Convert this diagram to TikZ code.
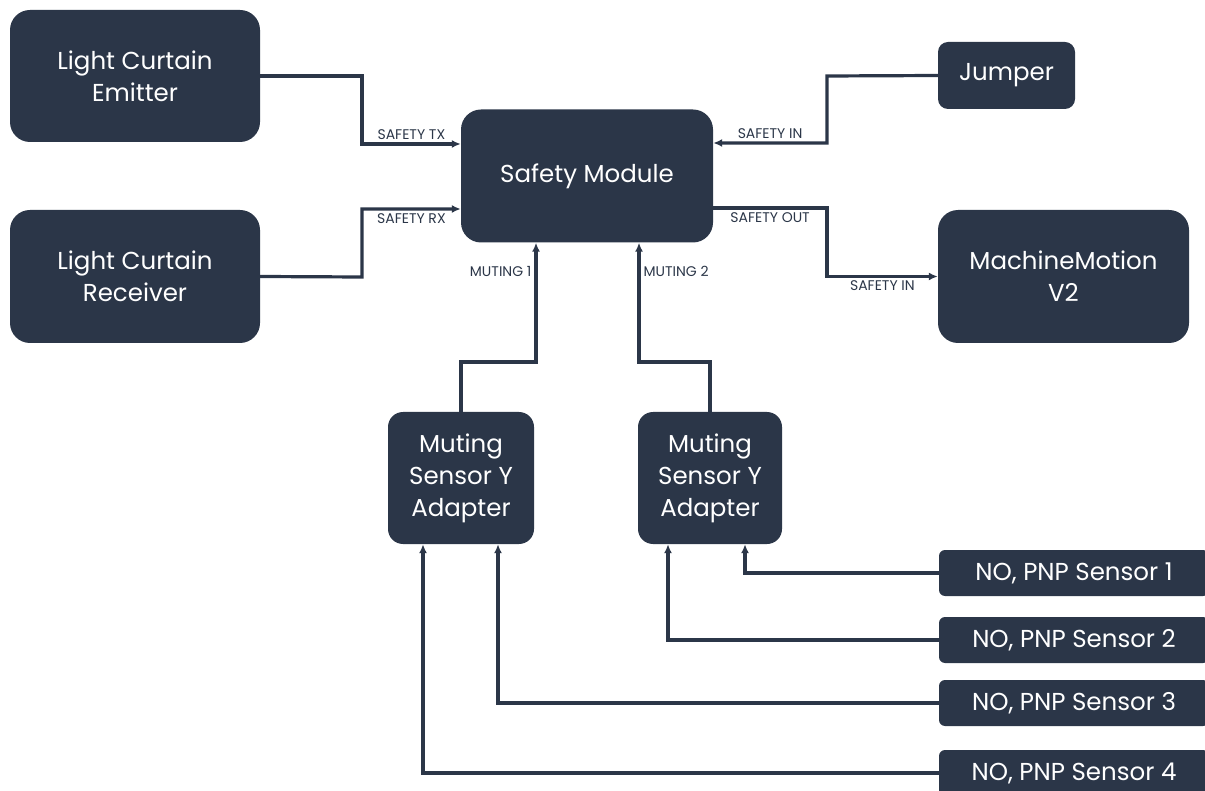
\documentclass[tikz,border=0pt]{standalone}
\usepackage{fontspec}
\setmainfont{Poppins}
\usetikzlibrary{arrows.meta}
\definecolor{navy}{HTML}{2B3648}
\tikzset{
  block/.style={fill=navy, rounded corners=20pt, text=white, align=center,
    inner sep=0pt, font=\fontsize{24.5}{32}\selectfont},
  sensor/.style={block, rounded corners=6pt, minimum width=270pt, minimum height=46pt,
    font=\fontsize{24.5}{26}\selectfont},
  wire/.style={draw=navy, line width=3.2pt, -{Latex[length=9pt,width=8pt]}},
  lbl/.style={text=navy, inner sep=3pt, font=\fontsize{14}{15}\selectfont},
}
\begin{document}
\begin{tikzpicture}[x=1pt,y=-1pt]
\useasboundingbox (0,0) rectangle (1205,791);
\clip (0,0) rectangle (1205,791);
% boxes
\node[block, minimum width=250pt, minimum height=132pt] (emitter) at (135,76) {Light Curtain\\Emitter};
\node[block, minimum width=250pt, minimum height=133pt] (receiver) at (135,276.5) {Light Curtain\\Receiver};
\node[block, minimum width=252pt, minimum height=133pt] (safety) at (587,176) {Safety Module};
\node[block, rounded corners=10pt, minimum width=137pt, minimum height=67pt] (jumper) at (1006.5,75.5) {Jumper};
\node[block, minimum width=251pt, minimum height=133pt] (machine) at (1063.5,276.5) {MachineMotion\\V2};
\node[block, rounded corners=15pt, minimum width=146pt, minimum height=132pt] (adaptA) at (461,478) {Muting\\Sensor Y\\Adapter};
\node[block, rounded corners=15pt, minimum width=144pt, minimum height=132pt] (adaptB) at (710,478) {Muting\\Sensor Y\\Adapter};
\foreach \i/\y in {1/573,2/640,3/703,4/773}
  \node[sensor] (s\i) at (1074,\y) {NO, PNP Sensor \i};
% safety wiring
\draw[wire] (emitter.east) -- (362,76) |- node[lbl,pos=0.75,above]{SAFETY TX} ([yshift=32]safety.west);
\draw[wire] (receiver.east) -- (362,277) |- node[lbl,pos=0.75,below]{SAFETY RX} ([yshift=-33]safety.west);
\draw[wire] (jumper.west) -- (827,76) |- node[lbl,pos=0.75,above]{SAFETY IN} ([yshift=33]safety.east);
\draw[wire] ([yshift=-32]safety.east) -- node[lbl,below]{SAFETY OUT} (827,208) |- node[lbl,pos=0.75,below]{SAFETY IN} (machine.west);
% muting
\draw[wire] (adaptA.north) -- (461,362) -| node[lbl,pos=0.88,left]{MUTING 1} ([xshift=-51]safety.south);
\draw[wire] (adaptB.north) -- (710,362) -| node[lbl,pos=0.88,right]{MUTING 2} ([xshift=52]safety.south);
% sensors
\draw[wire] (s1.west) -| ([xshift=35]adaptB.south);
\draw[wire] (s2.west) -| ([xshift=-42]adaptB.south);
\draw[wire] (s3.west) -| ([xshift=37]adaptA.south);
\draw[wire] (s4.west) -| ([xshift=-38]adaptA.south);
\end{tikzpicture}
\end{document}
